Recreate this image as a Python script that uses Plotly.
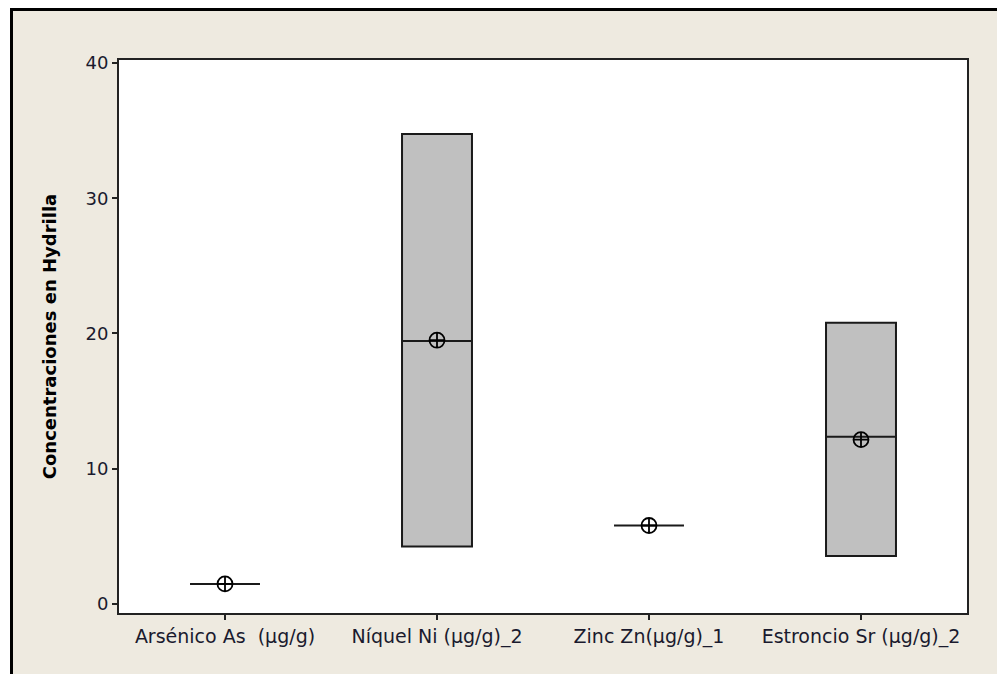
import plotly.graph_objects as go

categories = ["Arsénico As  (µg/g)", "Níquel Ni (µg/g)_2", "Zinc Zn(µg/g)_1", "Estroncio Sr (µg/g)_2"]
q1_vals = [1.48, 4.24, 5.8, 3.55]
median_vals = [1.48, 19.45, 5.8, 12.37]
q3_vals = [1.48, 34.75, 5.8, 20.8]
mean_vals = [1.48, 19.5, 5.8, 12.15]
y_ticks = [0, 10, 20, 30, 40]

# page is offset by the 8px body margin
W, H = 997, 666
L, R, T, B = 111, 38, 52, 61
pw, ph = W - L - R, H - T - B

def px(x):
    return (x - L) / pw

def py(y):
    return (H - B - y) / ph

fig = go.Figure()
fig.add_trace(go.Box(
    x=categories, q1=q1_vals, median=median_vals, q3=q3_vals,
    lowerfence=q1_vals, upperfence=q3_vals,
    fillcolor="#C0C0C0", line=dict(color="#1a1a1a", width=2),
    width=0.33, whiskerwidth=0, boxpoints=False, showlegend=False,
    hoverinfo="skip",
))
fig.add_trace(go.Scatter(
    x=categories, y=mean_vals, mode="markers",
    marker=dict(symbol="circle-cross-open", size=15, color="black", line=dict(width=1.8)),
    showlegend=False, hoverinfo="skip",
))

beige = "#EEEAE0"
shapes = [
    dict(type="rect", xref="paper", yref="paper", x0=px(0), x1=px(2), y0=py(0), y1=py(H),
         fillcolor="white", line=dict(width=0), layer="above"),
    dict(type="line", xref="paper", yref="paper", x0=px(2), x1=px(W), y0=py(1), y1=py(1),
         line=dict(color="black", width=4), layer="above"),
    dict(type="line", xref="paper", yref="paper", x0=px(3.5), x1=px(3.5), y0=py(0), y1=py(H),
         line=dict(color="black", width=3), layer="above"),
]

fig.update_layout(
    width=W, height=H,
    margin=dict(l=L, r=R, t=T, b=B),
    paper_bgcolor=beige, plot_bgcolor="white",
    font=dict(family="DejaVu Sans", size=14, color="#1a1a2e"),
    shapes=shapes,
)
fig.update_xaxes(
    type="category", categoryorder="array", categoryarray=categories,
    range=[-0.5, 3.5],
    showline=True, mirror=True, linecolor="#222", linewidth=2,
    ticks="outside", ticklen=5, tickcolor="#222", tickwidth=1.5,
    showgrid=False, zeroline=False,
    tickfont=dict(family="DejaVu Sans", size=19),
)
fig.update_yaxes(
    range=[-0.67, 40.22], tickvals=y_ticks,
    showline=True, mirror=True, linecolor="#222", linewidth=2,
    ticks="outside", ticklen=5, tickcolor="#222", tickwidth=1.5,
    showgrid=False, zeroline=False,
    tickfont=dict(family="DejaVu Sans", size=18),
    title=dict(text="<b>Concentraciones en Hydrilla</b>", standoff=24,
               font=dict(family="DejaVu Sans", size=18, color="black")),
)

fig.write_html("out.html")
